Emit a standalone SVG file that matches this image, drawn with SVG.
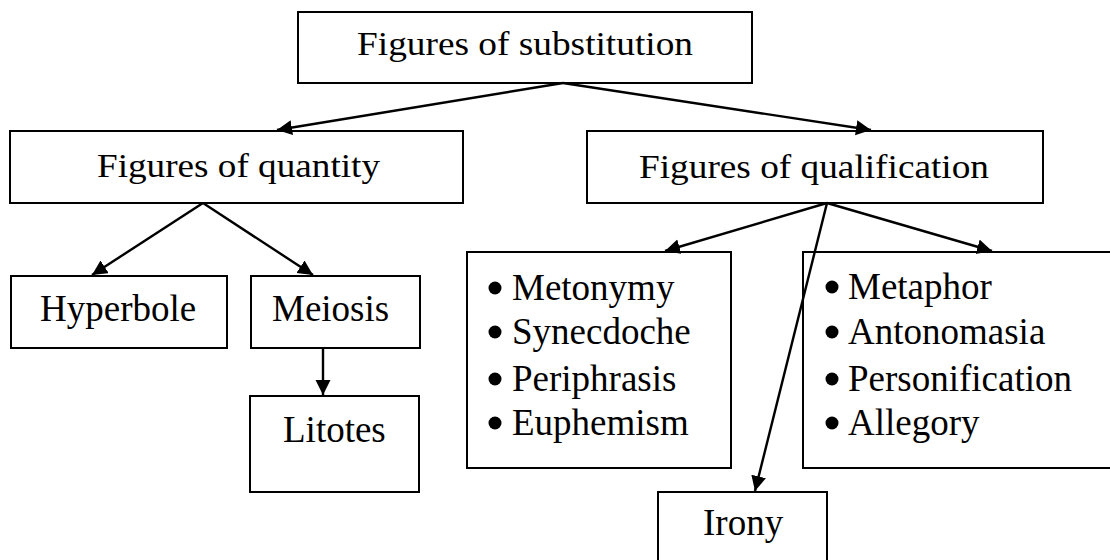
<svg xmlns="http://www.w3.org/2000/svg" width="1110" height="560" viewBox="0 0 1110 560">
  <style>
    .box { fill: #fff; stroke: #000; stroke-width: 2; }
    .head { font-family: "Liberation Serif", "Times New Roman", serif; font-size: 33px; fill: #000; }
    .item { font-family: "Liberation Serif", "Times New Roman", serif; font-size: 37px; fill: #000; }
    .edge { stroke: #000; stroke-width: 2.4; fill: none; marker-end: url(#arrow); }
    .dot { fill: #000; }
  </style>
  <defs>
    <marker id="arrow" markerUnits="userSpaceOnUse" markerWidth="16" markerHeight="16" refX="15" refY="7.5" orient="auto">
      <path d="M0,0 L15,7.5 L0,15 Z" fill="#000"/>
    </marker>
  </defs>
  <rect width="1110" height="560" fill="#fff"/>

  <g id="node-substitution">
    <rect class="box" x="298" y="12" width="454" height="71"/>
    <text class="head" x="357" y="55" textLength="336" lengthAdjust="spacingAndGlyphs">Figures of substitution</text>
  </g>

  <g id="node-quantity">
    <rect class="box" x="10" y="131" width="453" height="72"/>
    <text class="head" x="97" y="177" textLength="283" lengthAdjust="spacingAndGlyphs">Figures of quantity</text>
  </g>

  <g id="node-qualification">
    <rect class="box" x="587" y="131" width="456" height="72"/>
    <text class="head" x="639" y="178" textLength="350" lengthAdjust="spacingAndGlyphs">Figures of qualification</text>
  </g>

  <g id="node-hyperbole">
    <rect class="box" x="11" y="276" width="216" height="72"/>
    <text class="item" x="40" y="321">Hyperbole</text>
  </g>

  <g id="node-meiosis">
    <rect class="box" x="251" y="276" width="169" height="72"/>
    <text class="item" x="272" y="321">Meiosis</text>
  </g>

  <g id="node-litotes">
    <rect class="box" x="250" y="396" width="169" height="96"/>
    <text class="item" x="283" y="442">Litotes</text>
  </g>

  <g id="node-contiguity">
    <rect class="box" x="467" y="252" width="264" height="216"/>
    <circle class="dot" cx="495" cy="288" r="6.5"/>
    <circle class="dot" cx="495" cy="332" r="6.5"/>
    <circle class="dot" cx="495" cy="379" r="6.5"/>
    <circle class="dot" cx="495" cy="423" r="6.5"/>
    <text class="item" x="512" y="300">Metonymy</text>
    <text class="item" x="512" y="344">Synecdoche</text>
    <text class="item" x="512" y="391">Periphrasis</text>
    <text class="item" x="512" y="435">Euphemism</text>
  </g>

  <g id="node-similarity">
    <rect class="box" x="803" y="252" width="320" height="216"/>
    <circle class="dot" cx="832" cy="287" r="6.5"/>
    <circle class="dot" cx="832" cy="332" r="6.5"/>
    <circle class="dot" cx="832" cy="379" r="6.5"/>
    <circle class="dot" cx="832" cy="423" r="6.5"/>
    <text class="item" x="848" y="299">Metaphor</text>
    <text class="item" x="848" y="344">Antonomasia</text>
    <text class="item" x="848" y="391">Personification</text>
    <text class="item" x="848" y="435">Allegory</text>
  </g>

  <g id="node-irony">
    <rect class="box" x="658" y="492" width="169" height="75"/>
    <text class="item" x="703" y="535">Irony</text>
  </g>

  <g id="connectors">
    <line class="edge" x1="563" y1="83" x2="277" y2="130"/>
    <line class="edge" x1="563" y1="83" x2="871" y2="130"/>
    <line class="edge" x1="203" y1="203" x2="92" y2="275"/>
    <line class="edge" x1="203" y1="203" x2="313" y2="275"/>
    <line class="edge" x1="323" y1="348" x2="323" y2="395"/>
    <line class="edge" x1="827" y1="203" x2="665" y2="251"/>
    <line class="edge" x1="827" y1="203" x2="992" y2="251"/>
    <line class="edge" x1="827" y1="203" x2="755" y2="491"/>
  </g>
</svg>
